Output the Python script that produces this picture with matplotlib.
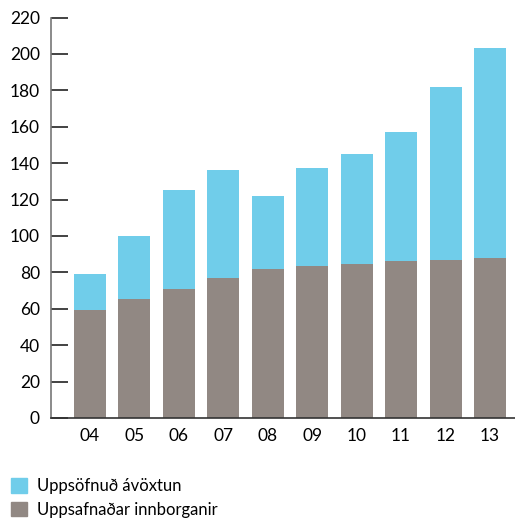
import matplotlib
matplotlib.use("Agg")
import matplotlib.pyplot as plt
import numpy as np
from matplotlib.patches import Patch

years = ["04", "05", "06", "07", "08", "09", "10", "11", "12", "13"]
innborganir = [59.5, 65.5, 71, 77, 82, 83.5, 84.5, 86, 87, 88]
total = [79, 100, 125, 136, 122, 137.5, 145, 157, 182, 203.5]
avoxtun = [t - b for t, b in zip(total, innborganir)]
yticks = [0, 20, 40, 60, 80, 100, 120, 140, 160, 180, 200, 220]

blue = "#70CDEA"
gray = "#918883"

plt.rcParams['font.family'] = ['Lato', 'DejaVu Sans']

fig = plt.figure(figsize=(5.15, 5.18), dpi=100)
ax = fig.add_axes([51/515, 100/518, 1 - 51/515, 400.5/518])

x = np.arange(len(years))
ax.bar(x, innborganir, width=0.72, color=gray, label="Uppsafnaðar innborganir")
ax.bar(x, avoxtun, bottom=innborganir, width=0.72, color=blue, label="Uppsöfnuð ávöxtun")

ax.set_ylim(0, 220)
ax.set_xlim(-0.8775, 9.5625)
ax.set_yticks(yticks)
ax.set_xticks(x)
ax.set_xticklabels(years)
ax.tick_params(axis='y', direction='in', length=12, width=1.2, color='#222222', pad=8, labelsize=12.5)
ax.tick_params(axis='x', length=0, pad=7, labelsize=12.5)
for s in ['top', 'right']:
    ax.spines[s].set_visible(False)
ax.spines['left'].set_color('#777777')
ax.spines['left'].set_linewidth(1.2)
ax.spines['bottom'].set_color('#333333')
ax.spines['bottom'].set_linewidth(1.2)

handles = [Patch(color=blue, label="Uppsöfnuð ávöxtun"),
           Patch(color=gray, label="Uppsafnaðar innborganir")]
fig.legend(handles=handles, loc='upper left', bbox_to_anchor=(11/515, 1 - 478/518),
           frameon=False, fontsize=12, handlelength=0.96, handleheight=0.96,
           handletextpad=0.6, labelspacing=0.45, borderpad=0, borderaxespad=0)

fig.savefig("out.png", dpi=100)
